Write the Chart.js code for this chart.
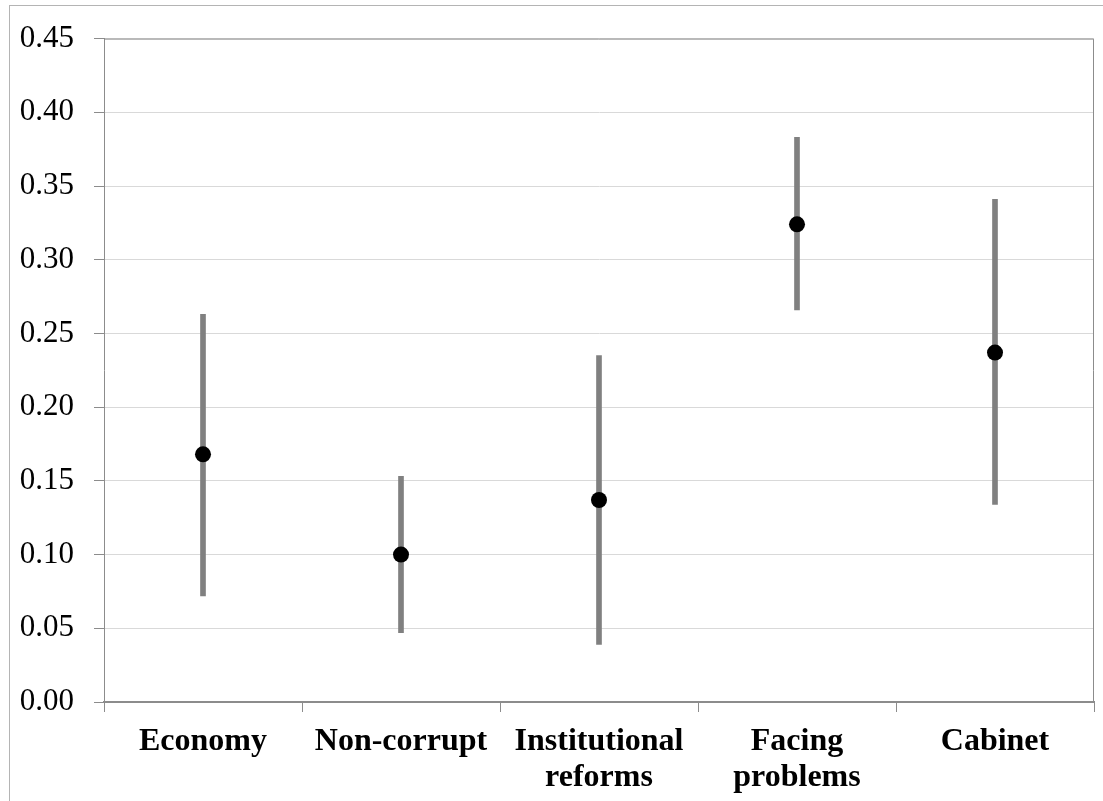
<!DOCTYPE html>
<html>
<head>
<meta charset="utf-8">
<script src="https://cdn.jsdelivr.net/npm/chart.js@4/dist/chart.umd.min.js"></script>
<style>
html,body{margin:0;padding:0;background:#fff;overflow:hidden;}
#wrap{position:relative;width:1103px;height:801px;}
#frame{position:absolute;left:9px;top:5px;width:1200px;height:900px;border:1px solid #b4b4b4;box-sizing:border-box;pointer-events:none;}
canvas{position:absolute;left:0;top:0;}
</style>
</head>
<body>
<div id="wrap">
<div id="frame"></div>
<canvas id="c" width="1103" height="801"></canvas>
</div>
<script>
const categories = [["Economy"], ["Non-corrupt"], ["Institutional", "reforms"], ["Facing", "problems"], ["Cabinet"]];
const estimates = [0.168, 0.100, 0.137, 0.324, 0.237];
const lowerBounds = [0.072, 0.047, 0.039, 0.266, 0.134];
const upperBounds = [0.263, 0.153, 0.235, 0.383, 0.341];
const yTicks = [0, 0.05, 0.10, 0.15, 0.20, 0.25, 0.30, 0.35, 0.40, 0.45];

const ranges = lowerBounds.map((lo, i) => [lo, upperBounds[i]]);

const frameBorder = {
  id: 'frameBorder',
  afterDatasetsDraw(chart) {
    const a = chart.chartArea, ctx = chart.ctx;
    ctx.save();
    ctx.strokeStyle = '#8c8c8c';
    ctx.lineWidth = 1;
    ctx.beginPath();
    ctx.moveTo(a.left, a.top + 0.5);
    ctx.lineTo(a.right - 0.5, a.top + 0.5);
    ctx.lineTo(a.right - 0.5, a.bottom);
    ctx.stroke();
    ctx.restore();
  }
};

new Chart(document.getElementById('c'), {
  type: 'bar',
  data: {
    labels: categories,
    datasets: [
      {
        type: 'line',
        data: estimates,
        showLine: false,
        pointRadius: 8,
        pointHoverRadius: 8,
        pointBackgroundColor: '#000',
        pointBorderColor: '#000',
        pointBorderWidth: 0,
        order: 1
      },
      {
        type: 'bar',
        data: ranges,
        backgroundColor: '#808080',
        borderWidth: 0,
        barThickness: 5,
        order: 2
      }
    ]
  },
  plugins: [frameBorder],
  options: {
    responsive: false,
    animation: false,
    devicePixelRatio: 1,
    layout: { padding: { top: 31, right: 9, left: 0, bottom: 0 } },
    plugins: { legend: { display: false }, tooltip: { enabled: false } },
    scales: {
      x: {
        offset: true,
        grid: { offset: true, drawOnChartArea: false, drawTicks: true, tickLength: 10, tickColor: '#8c8c8c', tickWidth: 1 },
        border: { color: '#8c8c8c', width: 2 },
        ticks: {
          color: '#000',
          padding: 11,
          maxRotation: 0,
          autoSkip: false,
          font: { family: '"Liberation Serif", "Times New Roman", serif', size: 32, weight: 'bold', lineHeight: 1.15 }
        },
        afterFit(s) { s.height = 99; }
      },
      y: {
        min: 0,
        max: 0.45,
        afterBuildTicks(s) { s.ticks = yTicks.map(v => ({ value: v })); },
        grid: { color: '#d9d9d9', lineWidth: 1, drawTicks: true, tickLength: 10, tickColor: '#8c8c8c' },
        border: { color: '#8c8c8c', width: 1 },
        ticks: {
          color: '#000',
          padding: 20,
          callback: v => Number(v).toFixed(2),
          font: { family: '"Liberation Serif", "Times New Roman", serif', size: 31 }
        },
        afterFit(s) { s.width = 104; }
      }
    }
  }
});
</script>
</body>
</html>
